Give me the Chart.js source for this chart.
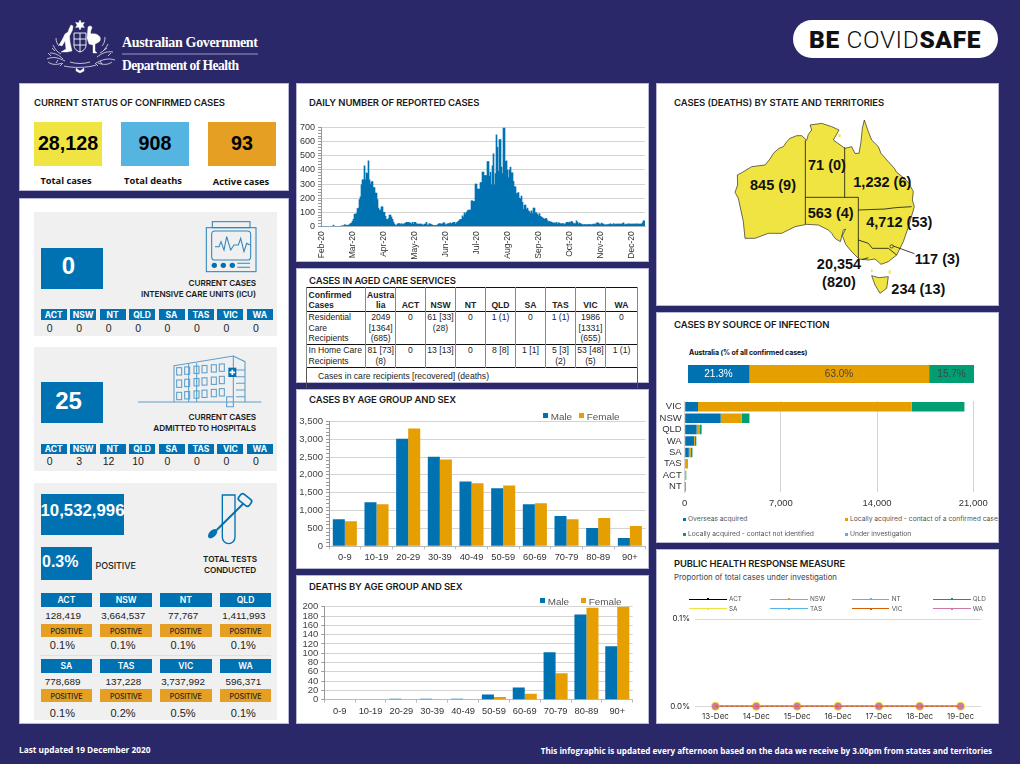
<!DOCTYPE html>
<html><head><meta charset="utf-8">
<style>
html,body{margin:0;padding:0;background:#2a2868;width:1020px;height:764px;overflow:hidden}
#r{position:relative;width:1020px;height:764px;overflow:hidden;background:#2a2868;font-family:"Liberation Sans",Arial,sans-serif}
.p,.t,canvas,svg,table{position:absolute}
.t{white-space:nowrap;line-height:1}
.p{box-sizing:border-box}
table{border-collapse:collapse;table-layout:fixed;font:8.6px/10.7px "Liberation Sans";color:#222}
td{padding:0;text-align:center;vertical-align:top;border-left:1px solid #888;border-right:1px solid #888;overflow:hidden;white-space:nowrap}
td:first-child{text-align:left}
tr{border-top:1.5px solid #111}
</style></head><body><div id="r"></div>
<script src="https://cdn.jsdelivr.net/npm/chart.js@4"></script>
<script>
// ---------- data ----------
const dailyCases=[
0,0,0,0,0,0,0,0,0,0,
0,0,8,0,0,0,0,0,0,0,
4,4,4,10,10,5,6,8,12,20,
22,35,50,85,88,88,125,130,190,210,
295,330,330,430,330,380,375,465,330,300,
315,318,275,275,235,235,190,130,115,115,
138,138,100,100,70,50,48,55,80,80,
65,50,30,15,5,8,15,20,20,12,
20,12,15,20,22,28,28,28,25,22,
15,28,15,28,28,18,15,15,15,15,
15,8,10,15,15,28,8,10,20,15,
12,8,5,5,5,5,10,15,20,18,
15,18,25,25,10,12,18,20,20,25,
18,22,28,28,15,25,30,35,45,50,
50,75,65,95,85,100,110,115,115,115,
180,180,175,175,300,300,265,265,265,310,
310,385,385,360,360,360,460,460,355,385,
295,430,515,295,375,650,560,390,615,615,
420,375,700,700,460,465,400,345,400,420,
380,380,320,280,280,230,235,240,200,195,
215,170,120,150,150,120,130,110,105,90,
110,90,130,130,95,95,85,75,90,70,
65,60,55,50,55,55,40,30,35,30,
30,25,22,25,20,28,15,25,22,18,
18,20,20,12,18,28,28,25,30,25,
35,30,20,20,18,38,28,15,22,20,
15,12,10,12,12,10,12,12,12,12,
10,12,15,15,12,22,25,22,15,12,
22,18,15,10,8,12,10,12,15,18,
12,12,20,12,15,15,15,15,15,15,
15,20,25,10,15,12,15,18,15,15,
15,15,15,15,15,18,15,15,15,15,
15,25,38,38];
const monthTicks=["Feb-20","Mar-20","Apr-20","May-20","Jun-20","Jul-20","Aug-20","Sep-20","Oct-20","Nov-20","Dec-20"];
const ageGroups=["0-9","10-19","20-29","30-39","40-49","50-59","60-69","70-79","80-89","90+"];
const casesMale=[760,1230,3010,2510,1815,1625,1180,845,510,230];
const casesFemale=[700,1175,3300,2430,1765,1705,1205,760,790,565];
const deathsMale=[0,0,2,2,2,11,26,102,183,115];
const deathsFemale=[0,0,0,0,0,6,13,57,198,201];
const sexNames=["Male","Female"];
const sourceNames=["Overseas acquired","Locally acquired - contact of a confirmed case","Locally acquired - contact not identified","Under investigation"];
const nationalShare=[21.3,63.0,15.7,0];
const sourceStates=["VIC","NSW","QLD","WA","SA","TAS","ACT","NT"];
const srcOverseas=[970,2620,870,680,300,60,50,0];
const srcContact=[15545,1520,240,60,145,130,50,5];
const srcUnknown=[3839,572,122,105,118,44,17,66];
const srcInvestigating=[0,0,0,0,0,0,0,0];
const responseDays=["13-Dec","14-Dec","15-Dec","16-Dec","17-Dec","18-Dec","19-Dec"];
const responseStates=["ACT","NSW","NT","QLD","SA","TAS","VIC","WA"];
const responseValues=[0,0,0,0,0,0,0];
const chipStates=["ACT","NSW","NT","QLD","SA","TAS","VIC","WA"];
const icuValues=[0,0,0,0,0,0,0,0];
const hospValues=[0,3,12,10,0,0,0,0];
const testValues=["128,419","3,664,537","77,767","1,411,993","778,689","137,228","3,737,992","596,371"];
const testPositive=["0.1%","0.1%","0.1%","0.1%","0.1%","0.2%","0.5%","0.1%"];
const ageColors=["#0072B2","#E69F00"];

// ---------- helpers ----------
const R=document.getElementById('r');
const HF='Inter,"Noto Sans",sans-serif';
function box(x,y,w,h,bg,extra){const d=document.createElement('div');d.className='p';
 d.style.cssText=`left:${x}px;top:${y}px;width:${w}px;height:${h}px;background:${bg};${extra||''}`;R.appendChild(d);return d;}
function txt(x,y,s,o){o=o||{};const d=document.createElement('div');d.className='t';d.textContent=s;
 const tx=o.a==='c'?'-50%':o.a==='r'?'-100%':'0';
 d.style.cssText=`left:${x}px;top:${y}px;transform:translate(${tx},-50%);font:${o.w||400} ${o.s||9}px ${o.f||'"Liberation Sans"'};color:${o.c||'#111'};letter-spacing:${o.ls||0}px`;
 R.appendChild(d);return d;}
function head(x,y,s,size){return txt(x,y-.6,s,{f:HF,w:600,s:size||9.5,c:'#1a1a1a',ls:-0.1});}
function svg(x,y,w,h,vb,inner){const n=document.createElement('div');
 n.innerHTML=`<svg xmlns="http://www.w3.org/2000/svg" style="left:${x}px;top:${y}px" width="${w}" height="${h}" viewBox="${vb}">${inner}</svg>`;
 R.appendChild(n.firstChild);}
function canvas(b){const c=document.createElement('canvas');c.width=b.r-b.l;c.height=b.b-b.t;
 c.style.cssText=`left:${b.l}px;top:${b.t}px;width:${b.r-b.l}px;height:${b.b-b.t}px`;R.appendChild(c);return c;}
function layoutFor(b,p){return {autoPadding:false,padding:{top:p.t-b.t,right:b.r-p.r,left:0,bottom:0}};}
const noPad=s=>{s.paddingLeft=s.paddingRight=s.paddingTop=s.paddingBottom=0};
const fixW=w=>s=>{s.width=w;noPad(s)};const fixH=h=>s=>{s.height=h;noPad(s)};
Chart.defaults.animation=false;Chart.defaults.responsive=false;Chart.defaults.devicePixelRatio=1;
Chart.defaults.plugins.legend.display=false;Chart.defaults.plugins.tooltip.enabled=false;
Chart.defaults.font.family='"Liberation Sans"';

// ---------- panels ----------
[[19,83,270,108],[19,198,270,526],[296,83,353,179],[296,268,353,115],[296,389,353,180],[296,575,353,149],[656,83,343,223],[656,312,343,231],[656,549,343,175]]
 .forEach(a=>box(a[0],a[1],a[2],a[3],'#fff','border:1px solid #b9b8d6'));

// header
svg(40,15,225,62,"40 15 225 62",`
<g fill="#fff" stroke="#fff">
<path stroke-width=".5" d="M80 20l1.4 3 3-.6-1.6 2.6 1.6 2.6-3-.6-1.4 3-1.4-3-3 .6 1.6-2.6-1.6-2.6 3 .6z"/>
<path stroke-width=".4" d="M71 25l2 1-.5 4-3 6 .5 6 2 9-5 1-6 0 5-3-1-8-3 5-3-1 3-5 3-6 3-2 1-3z"/>
<path stroke-width=".4" d="M88 27c2-2 4-1 4 1-1 2-2 4-1 6 3-1 7 0 9 3 1 3 0 5-3 6l-2 1 0 7 2 2-4 0 0-8-4-1-2-6z"/>
<path fill="none" stroke-width=".9" d="M74 33h12v12c0 4-3 6-6 7-3-1-6-3-6-7z M80 33v19 M74 39h12 M74 45h12"/>
<path fill="none" stroke-width=".7" d="M47 59c6-3 12-1 18 2 M50 53c5 0 9 2 13 6 M53 45c2 4 4 7 8 9 M113 52c-6-1-11 1-16 5 M108 44c-2 4-4 7-8 9 M115 60c-6-2-12-1-19 3 M64 66c8 2 24 2 32-1 M70 62c6 2 14 2 20 0 M105 37c0 4-1 7-3 9 M56 38c0 3 1 6 3 8 M51 56l-3-3 M55 51l-3-3 M58 60l-2 3 M63 63l-3 3 M108 56l3-3 M104 50l3-2 M100 61l2 3 M95 63l3 3 M48 62c4 3 9 3 14 1 M112 62c-4 3-9 3-14 1"/>
<path stroke-width=".4" d="M76 68l4 3 4-3 0 3-4 2-4-2z"/>
</g>
<text x="122" y="47" font-family="Liberation Serif" font-weight="700" font-size="14" fill="#fff" textLength="136">Australian Government</text>
<line x1="122" x2="258" y1="54" y2="54" stroke="#9c9bc6" stroke-width="1"/>
<text x="122" y="70" font-family="Liberation Serif" font-weight="700" font-size="13.6" fill="#fff" textLength="117">Department of Health</text>`);
box(793,20,205,38,'#fff','border-radius:19px');
const pill=txt(895,39,'',{a:'c',s:24.5,f:'Roboto,sans-serif',c:'#111',ls:.6});
pill.innerHTML='<b style="font-weight:900">BE</b> <span style="font-weight:300">COVID</span><b style="font-weight:900">SAFE</b>';

// footer
txt(19,749,'Last updated 19 December 2020',{f:'"Open Sans"',w:700,s:8.3,c:'#fff'});
txt(992,750,'This infographic is updated every afternoon based on the data we receive by 3.00pm from states and territories',{a:'r',f:'"Open Sans"',w:700,s:8.15,c:'#fff'});

// status
head(34,102.5,'CURRENT STATUS OF CONFIRMED CASES');
[[34,'#F0E442','28,128','Total cases',180,66],[121,'#56B4E0','908','Total deaths',180,153],[208,'#E5A024','93','Active cases',181,241]].forEach(a=>{
 box(a[0],122,68,44,a[1]);
 txt(a[0]+34,143,a[2],{a:'c',w:700,s:19.7,c:'#000'});
 txt(a[5],a[4],a[3],{a:'c',f:'"Open Sans"',w:700,s:9.3,c:'#111'});
});

// ICU and hospital blocks
function chips(yTop,vals,yVal){chipStates.forEach((s,i)=>{const x=40.7+i*29.45;
 box(x,yTop,26,10.7,'#0072B2');
 txt(x+13,yTop+5.5,s,{a:'c',w:700,s:8.5,c:'#fff',f:HF});
 txt(x+9,yVal,String(vals[i]),{a:'c',s:10.5,c:'#222'});});}
box(34,212,243,124,'#f0f0f0');
box(34,347,243,124,'#f0f0f0');
box(34,483,243,237,'#f0f0f0');
box(40.7,247.7,62.6,41,'#0072B2');txt(68.5,266,'0',{a:'c',w:700,s:24,c:'#fff'});
txt(256,282.7,'CURRENT CASES',{a:'r',f:HF,w:600,s:8.2,c:'#1a1a1a',ls:-.1});
txt(256,293.5,'INTENSIVE CARE UNITS (ICU)',{a:'r',f:HF,w:600,s:8.2,c:'#1a1a1a',ls:-.1});
chips(309.3,icuValues,328.3);
box(40.7,382,62.6,41,'#0072B2');txt(68.5,400.7,'25',{a:'c',w:700,s:24,c:'#fff'});
txt(256,417.3,'CURRENT CASES',{a:'r',f:HF,w:600,s:8.2,c:'#1a1a1a',ls:-.1});
txt(256,428.3,'ADMITTED TO HOSPITALS',{a:'r',f:HF,w:600,s:8.2,c:'#1a1a1a',ls:-.1});
chips(443.7,hospValues,461);

// icons (drawn in 3x units of the panel region)
let windows='';
for(let c=0;c<6;c++)for(let r=0;r<3;r++){const x=470+c*24+(c>1?4:0)+(c>3?4:0),y=503-c*2.2+r*37;
 windows+=`<rect x="${x}" y="${y}" width="15" height="22"/>`;}
svg(20,200,270,280,"0 0 810 840",`
<g fill="none" stroke="#2f86bd" stroke-width="3.2">
<rect x="559" y="83" width="149" height="132"/><rect x="577" y="65" width="113" height="18"/>
<rect x="575" y="93" width="117" height="87" rx="10"/>
<polyline points="585,140 597,140 603,125 612,150 620,110 632,150 642,135 655,135 662,115 672,155 680,130 690,135"/>
<path d="M652 190h38M652 202h38"/></g>
<g fill="#0072B2"><circle cx="583" cy="196" r="8"/><circle cx="610" cy="196" r="8"/><circle cx="637" cy="196" r="8"/></g>
<g fill="none" stroke="#5b9fcc" stroke-width="3.2">
<path d="M354 606H462M675 606H724"/>
<path d="M462 497L640 468L675 485V606H462Z M640 468V620H620V590H640 M530 490V606 M506 492V606 M648 510H675 M648 530H675 M648 550H675 M648 570H675 M648 590H675"/>
${windows}</g>
<rect x="625" y="503" width="24" height="28" fill="#0072B2"/><path d="M637 509v16M629 517h16" stroke="#fff" stroke-width="5"/>`);

// tests block
box(40.7,493.7,83,41,'#0072B2');txt(82.5,510.5,'10,532,996',{a:'c',w:700,s:16.8,c:'#fff'});
box(40.7,547.3,51.3,33,'#0072B2');txt(42,562,'0.3%',{w:700,s:16,c:'#fff'});
txt(95.5,564.5,'POSITIVE',{f:HF,w:500,s:9,c:'#222',ls:-.1});
txt(230,558.7,'TOTAL TESTS',{a:'c',f:HF,w:600,s:8.2,c:'#1a1a1a',ls:-.1});
txt(230,569.5,'CONDUCTED',{a:'c',f:HF,w:600,s:8.2,c:'#1a1a1a',ls:-.1});
svg(20,480,270,245,"0 0 810 735",`
<path d="M607 45H645V172A19 19 0 0 1 607 172Z" fill="none" stroke="#0072B2" stroke-width="4"/>
<path d="M675 66L590 150" stroke="#0072B2" stroke-width="6"/>
<ellipse cx="578" cy="161" rx="17" ry="10" transform="rotate(-45 578 161)" fill="#0072B2"/>
<rect x="655" y="48" width="40" height="24" rx="8" transform="rotate(38 675 60)" fill="#f0f0f0" stroke="#0072B2" stroke-width="5"/>`);
const valOffset=[22.5,22.9,23,24,22,23,23,23.5],pctOffset=[21.7,22.6,23,23.5];
chipStates.forEach((s,i)=>{const col=i%4,row=i<4?0:1;
 const x=40.7+col*59.7,blue=row?659.3:593.3,val=row?680.7:614.7,org=row?688.7:624,pct=row?713:645;
 box(x,blue,51.5,13.4,'#0072B2');txt(x+25.7,blue+6.8,s,{a:'c',f:HF,w:600,s:8.6,c:'#fff'});
 txt(x+valOffset[i],val,testValues[i],{a:'c',s:9.9,c:'#222'});
 box(x,org,51.5,13.4,'#E5A024');txt(x+25.7,org+6.8,'POSITIVE',{a:'c',f:HF,w:500,s:7.2,c:'#222',ls:-.1});
 txt(x+pctOffset[col],pct,testPositive[i],{a:'c',s:11,c:'#222'});
});
box(40,655,231,1,'#e0e0e0');

// aged care table
head(309,280.5,'CASES IN AGED CARE SERVICES');
const T=document.createElement('table');
T.style.cssText='left:306px;top:287px;width:331px';
const colW=[59.4,29.6,30,30,30,30,30,30,30,32];
T.innerHTML='<colgroup>'+colW.map(w=>`<col style="width:${w}px">`).join('')+'</colgroup>'+
`<tr style="height:24px"><td style="vertical-align:bottom;font-weight:700;padding-left:1.5px">Confirmed<br>Cases</td><td style="vertical-align:bottom"><b>Austra<br>lia</b></td>`+
chipStates.map(s=>`<td style="vertical-align:bottom"><b>${s}</b></td>`).join('')+'</tr>'+
`<tr style="height:32.4px"><td style="padding-left:1.5px">Residential<br>Care<br>Recipients</td><td>2049<br>[1364]<br>(685)</td><td>0</td><td>61 [33]<br>(28)</td><td>0</td><td>1 (1)</td><td>0</td><td>1 (1)</td><td>1986<br>[1331]<br>(655)</td><td>0</td></tr>`+
`<tr style="height:21.6px"><td style="padding-left:1.5px">In Home Care<br>Recipients</td><td>81 [73]<br>(8)</td><td>0</td><td>13 [13]</td><td>0</td><td>8 [8]</td><td>1 [1]</td><td>5 [3]<br>(2)</td><td>53 [48]<br>(5)</td><td>1 (1)</td></tr>`+
`<tr style="height:20px;border-bottom:1.5px solid #333"><td colspan="10" style="padding:3px 0 0 11px;border-right:1px solid #555;border-left:1px solid #555">Cases in care recipients [recovered] (deaths)</td></tr>`;
R.appendChild(T);

// titles
head(309,102.5,'DAILY NUMBER OF REPORTED CASES');
head(309,399.5,'CASES BY AGE GROUP AND SEX');
head(309,587,'DEATHS BY AGE GROUP AND SEX');
head(674,102.5,'CASES (DEATHS) BY STATE AND TERRITORIES');
head(674,325,'CASES BY SOURCE OF INFECTION');
head(674,563.5,'PUBLIC HEALTH RESPONSE MEASURE',9.4);
txt(674,577,'Proportion of total cases under investigation',{f:HF,s:7.8,c:'#444'});

// ---------- daily chart ----------
{const b={l:296,t:118,r:649,b:262},p={l:321,t:127.7,r:645,b:226.3};
 new Chart(canvas(b),{type:'bar',data:{labels:dailyCases.map((_,i)=>monthTicks[Math.floor(i/31)]),
  datasets:[{data:dailyCases,backgroundColor:'#0072B2',barPercentage:1,categoryPercentage:1}]},
  options:{layout:layoutFor(b,p),scales:{
   x:{afterFit:fixH(b.b-p.b),grid:{display:false,drawTicks:false},border:{color:'#bbb'},
      ticks:{autoSkip:false,minRotation:90,maxRotation:90,padding:5,font:{size:8.5},color:'#333',
      callback(v,i){return i%31===0?this.getLabelForValue(v):''}}},
   y:{afterFit:fixW(p.l-b.l),min:0,max:700,
      grid:{color:c=>c.tick.value%100?'rgba(0,0,0,0)':'#d4d4d4',tickColor:'#999',tickLength:3,lineWidth:1},
      border:{color:'#999',width:1},
      ticks:{stepSize:20,autoSkip:false,padding:3,font:{size:9},color:'#333',callback:v=>v%100?'':v}}}}});
}
// ---------- age charts ----------
function ageChart(b,p,d1,d2,max,major,minor,cp,fmt){
 new Chart(canvas(b),{type:'bar',data:{labels:ageGroups,datasets:[
  {label:sexNames[0],data:d1,backgroundColor:ageColors[0],categoryPercentage:cp,barPercentage:1},
  {label:sexNames[1],data:d2,backgroundColor:ageColors[1],categoryPercentage:cp,barPercentage:1}]},
 options:{layout:layoutFor(b,p),scales:{
  x:{afterFit:fixH(b.b-p.b),grid:{display:true,drawOnChartArea:false,color:'#bbb',tickLength:3,offset:true},border:{color:'#bbb'},
     ticks:{autoSkip:false,maxRotation:0,padding:3,font:{size:9.3},color:'#333'}},
  y:{afterFit:fixW(p.l-b.l),min:0,max:max,
     grid:{color:c=>c.tick.value%major?'rgba(0,0,0,0)':'#d4d4d4',tickColor:'#999',tickLength:3},border:{color:'#999'},
     ticks:{stepSize:minor,autoSkip:false,padding:3,font:{size:9.5},color:'#444',callback:v=>v%major?'':fmt(v)}}}}});
}
const comma=v=>v.toLocaleString('en-AU');
ageChart({l:296,t:412,r:649,b:569},{l:329,t:421.3,r:645.7,b:546.3},casesMale,casesFemale,3500,500,100,.76,comma);
ageChart({l:296,t:597,r:649,b:724},{l:324.3,t:606.7,r:632.7,b:699.7},deathsMale,deathsFemale,200,20,20,.78,comma);
function sexLegend(items){items.forEach(a=>{box(a[0],a[1]-2.7,5,5,a[2]);txt(a[0]+7.7,a[1],a[3],{s:9.9,c:'#555'});});}
sexLegend([[543,415.5,ageColors[0],sexNames[0]],[579,415.5,ageColors[1],sexNames[1]],
 [540,600.7,ageColors[0],sexNames[0]],[581,600.7,ageColors[1],sexNames[1]]]);

// ---------- source charts ----------
const srcColors=['#0072B2','#E69F00','#009E73','#56B4E9'];
txt(689,352,'Australia (% of all confirmed cases)',{f:HF,w:700,s:7,c:'#111',ls:-.1});
const shareLabels={id:'shareLabels',afterDatasetsDraw(ch){const g=ch.ctx;g.save();g.textAlign='center';g.textBaseline='middle';
 g.font='10px "Liberation Sans"';
 ch.data.datasets.forEach((d,i)=>{if(!d.data[0])return;const e=ch.getDatasetMeta(i).data[0];
  g.fillStyle=i===0?'#fff':'#444';g.fillText(d.data[0].toFixed(1)+'%',(e.x+e.base)/2,e.y+.5);});g.restore();}};
new Chart(canvas({l:688,t:365,r:974,b:383}),{type:'bar',plugins:[shareLabels],
 data:{labels:['Australia'],datasets:nationalShare.map((v,i)=>({label:sourceNames[i],data:[v],backgroundColor:srcColors[i],barPercentage:1,categoryPercentage:1}))},
 options:{indexAxis:'y',scales:{x:{stacked:true,display:false,min:0,max:100},y:{stacked:true,display:false}}}});
{const b={l:660,t:394,r:996,b:512},p={l:684.7,t:401,r:973.3,b:492.4};
 new Chart(canvas(b),{type:'bar',data:{labels:sourceStates,datasets:[srcOverseas,srcContact,srcUnknown,srcInvestigating].map((d,i)=>({label:sourceNames[i],data:d,backgroundColor:srcColors[i],barPercentage:.83,categoryPercentage:1}))},
 options:{indexAxis:'y',layout:layoutFor(b,p),scales:{
  x:{stacked:true,afterFit:fixH(b.b-p.b),min:0,max:21000,grid:{color:'#d4d4d4',drawTicks:false},border:{display:false},
     ticks:{stepSize:7000,padding:5,font:{size:9.5},color:'#333',callback:v=>v.toLocaleString('en-AU')}},
  y:{stacked:true,afterFit:fixW(p.l-b.l),grid:{display:false,drawTicks:false},border:{color:'#d4d4d4'},ticks:{autoSkip:false,padding:3,font:{size:9.5},color:'#333'}}}}});
}
[[683,519.3,0,688],[845,519.3,1,850],[683,534.3,2,688],[845,534.3,3,850]].forEach(a=>{
 box(a[0],a[1]-1.5,3,3,srcColors[a[2]]);txt(a[3],a[1],sourceNames[a[2]],{f:HF,s:6.7,c:'#555',ls:0});});

// ---------- response chart ----------
const respColors=['#000000','#E69F00','#56B4E9','#009E73','#F0E442','#56B4E9','#D55E00','#CC79A7'];
{const b={l:660,t:610,r:996,b:724},p={l:695,t:619,r:981,b:706.3};
 const rad=[2,2,2,2,4.5,2,3,3.5];
 const order=[6,7,4,5,3,2,1,0];
 new Chart(canvas(b),{type:'line',data:{labels:responseDays,datasets:order.map(i=>({label:responseStates[i],data:responseValues,borderColor:respColors[i],backgroundColor:respColors[i],borderWidth:1,pointRadius:i===6?0:rad[i],pointBorderWidth:0,borderDash:i===6?[3,2]:[],clip:false}))},
 options:{layout:layoutFor(b,p),scales:{
  x:{offset:true,afterFit:fixH(b.b-p.b),grid:{display:false,drawTicks:false},border:{display:false},ticks:{padding:5,font:{size:8,family:HF},color:'#333'}},
  y:{afterFit:fixW(p.l-b.l),min:0,max:.1,grid:{color:'#d9d9d9',drawTicks:false},border:{display:false},ticks:{stepSize:.1,padding:5,font:{size:8,family:HF},color:'#222',callback:v=>v.toFixed(1)+'%'}}}}});
 const cols=[[689,729],[770,810],[851.7,891.7],[933,972.7]];
 responseStates.forEach((s,i)=>{const c=cols[i%4],y=i<4?599:608.7;
  box(c[0],y-.5,37.7,1,respColors[i]);box(c[0]+18,y-1,2,2,respColors[i]);
  txt(c[1],y,s,{f:HF,s:6.4,c:'#555'});});
}

// ---------- map ----------
const mapLabels=[["845 (9)",354,303],["71 (0)",516,245],["1,232 (6)",682,295],["563 (4)",527,387],["4,712 (53)",733,415],["20,354",552,540],["(820)",552,595],["117 (3)",847,525],["234 (13)",790,615]];
svg(655,85,345,225,"0 0 1035 675",`
<g fill="#F0E442" stroke="#222" stroke-width="2" stroke-linejoin="round">
<path d="M247 270L262 262L290 245L330 240L345 222L355 205L372 190L385 185L395 170L405 160L425 152L440 152L455 166L460 148L470 135L465 120L500 115L530 125L552 135L535 165L570 190L590 185L600 205L612 205L618 170L622 130L628 105L640 140L650 165L670 185L678 205L700 230L718 250L725 262L748 280L762 295L775 320L772 345L778 365L762 420L745 470L725 510L700 530L678 538L660 522L640 525L612 522L588 498L572 478L562 452L572 432L565 435L556 470L540 460L530 445L520 435L490 420L455 418L420 425L380 445L340 445L300 460L270 460L265 410L250 340L240 322L248 300Z"/>
<path d="M650 572L672 578L700 575L695 610L675 625L660 600Z"/></g>
<g fill="none" stroke="#111" stroke-width="2.4">
<path d="M451 166V418M569 187V337M451 337H610V520M610 375L690 372L722 368L770 365M610 465L640 475L652 490L700 490L725 510"/>
<path d="M712 482L778 506M620 524L640 518"/></g>
<circle cx="710" cy="484" r="5" fill="#F0E442" stroke="#111" stroke-width="2"/>
<g fill="#F0E442"><rect x="550" y="148" width="7" height="8"/><rect x="648" y="553" width="5" height="8"/><rect x="701" y="556" width="6" height="10"/></g>
<g font-family="Liberation Sans" font-weight="700" font-size="43.5" fill="#111" text-anchor="middle" dominant-baseline="middle">
${mapLabels.map(a=>`<text x="${a[1]}" y="${a[2]}">${a[0]}</text>`).join('')}</g>`);
</script></body></html>
